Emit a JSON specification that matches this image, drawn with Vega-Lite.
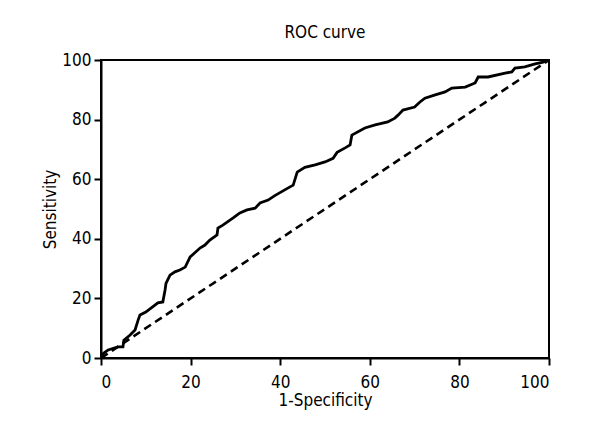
{
  "$schema": "https://vega.github.io/schema/vega-lite/v6.json",
  "autosize": "none",
  "width": 448,
  "height": 298,
  "padding": {"left": 101, "top": 60, "right": 51, "bottom": 82},
  "background": "white",
  "title": {"text": "ROC curve", "fontSize": 17, "fontWeight": "normal", "color": "black", "offset": 9},
  "config": {
    "font": "DejaVu Sans Condensed, Liberation Sans Narrow, Roboto Condensed, sans-serif",
    "view": {"stroke": "black", "strokeWidth": 2},
    "axis": {
      "grid": false,
      "domainColor": "black",
      "domainWidth": 2,
      "tickColor": "black",
      "tickWidth": 2,
      "tickSize": 7,
      "labelColor": "black",
      "labelFontSize": 17,
      "titleColor": "black",
      "titleFontSize": 17,
      "titleFontWeight": "normal"
    }
  },
  "datasets": {
    "diag": [{"fpr": 0, "tpr": 0}, {"fpr": 100, "tpr": 100}],
    "roc": [
      {"fpr": 0, "tpr": 0}, {"fpr": 0.5, "tpr": 1.5}, {"fpr": 1.6, "tpr": 2.7}, {"fpr": 3.8, "tpr": 3.7},
      {"fpr": 4.9, "tpr": 3.7}, {"fpr": 5.1, "tpr": 6}, {"fpr": 6.5, "tpr": 7.7}, {"fpr": 7.6, "tpr": 9.4},
      {"fpr": 8.3, "tpr": 12.8}, {"fpr": 8.7, "tpr": 14.4}, {"fpr": 10, "tpr": 15.4}, {"fpr": 12.7, "tpr": 18.5},
      {"fpr": 13.8, "tpr": 18.8}, {"fpr": 14.3, "tpr": 22.8}, {"fpr": 14.5, "tpr": 25}, {"fpr": 15.4, "tpr": 27.8},
      {"fpr": 16.5, "tpr": 28.9}, {"fpr": 17.6, "tpr": 29.5}, {"fpr": 18.8, "tpr": 30.5}, {"fpr": 19.9, "tpr": 33.9},
      {"fpr": 22.1, "tpr": 36.9}, {"fpr": 23.2, "tpr": 37.9}, {"fpr": 24.3, "tpr": 39.6}, {"fpr": 25.9, "tpr": 41.3},
      {"fpr": 26.1, "tpr": 43.6}, {"fpr": 27.2, "tpr": 44.6}, {"fpr": 29.5, "tpr": 47}, {"fpr": 31, "tpr": 48.7},
      {"fpr": 32.6, "tpr": 49.7}, {"fpr": 34.4, "tpr": 50.3}, {"fpr": 35.5, "tpr": 52}, {"fpr": 37.3, "tpr": 53},
      {"fpr": 38.8, "tpr": 54.5}, {"fpr": 41.7, "tpr": 57}, {"fpr": 42.9, "tpr": 58}, {"fpr": 43.8, "tpr": 62.4},
      {"fpr": 45.5, "tpr": 64}, {"fpr": 47.8, "tpr": 64.8}, {"fpr": 50, "tpr": 65.8}, {"fpr": 51.8, "tpr": 67},
      {"fpr": 52.7, "tpr": 69}, {"fpr": 54.5, "tpr": 70.5}, {"fpr": 55.6, "tpr": 71.5}, {"fpr": 56, "tpr": 74.8},
      {"fpr": 58.9, "tpr": 77.2}, {"fpr": 61.2, "tpr": 78.2}, {"fpr": 64, "tpr": 79.2}, {"fpr": 65.6, "tpr": 80.5},
      {"fpr": 66.3, "tpr": 81.5}, {"fpr": 67.4, "tpr": 83.2}, {"fpr": 70, "tpr": 84.2}, {"fpr": 71.2, "tpr": 85.9},
      {"fpr": 72.3, "tpr": 87.2}, {"fpr": 74.6, "tpr": 88.3}, {"fpr": 76.8, "tpr": 89.3}, {"fpr": 78.3, "tpr": 90.6},
      {"fpr": 81.3, "tpr": 90.9}, {"fpr": 83.5, "tpr": 92.3}, {"fpr": 84.2, "tpr": 94.3}, {"fpr": 86.4, "tpr": 94.3},
      {"fpr": 90.2, "tpr": 95.6}, {"fpr": 91.7, "tpr": 96}, {"fpr": 92.4, "tpr": 97.3}, {"fpr": 94.6, "tpr": 97.7},
      {"fpr": 96.9, "tpr": 98.7}, {"fpr": 98.7, "tpr": 99.3}, {"fpr": 100, "tpr": 100}
    ]
  },
  "encoding": {
    "x": {"field": "fpr", "type": "quantitative", "scale": {"domain": [0, 100], "nice": false},
          "axis": {"title": "1-Specificity", "values": [0, 20, 40, 60, 80, 100], "labelPadding": 9, "titlePadding": 2}},
    "y": {"field": "tpr", "type": "quantitative", "scale": {"domain": [0, 100], "nice": false},
          "axis": {"title": "Sensitivity", "values": [0, 20, 40, 60, 80, 100], "labelPadding": 3, "titlePadding": 2}}
  },
  "layer": [
    {"data": {"name": "diag"}, "mark": {"type": "line", "color": "black", "strokeWidth": 2.6, "strokeDash": [8, 5], "clip": true}},
    {"data": {"name": "roc"}, "mark": {"type": "line", "color": "black", "strokeWidth": 2.8, "clip": true}}
  ]
}
